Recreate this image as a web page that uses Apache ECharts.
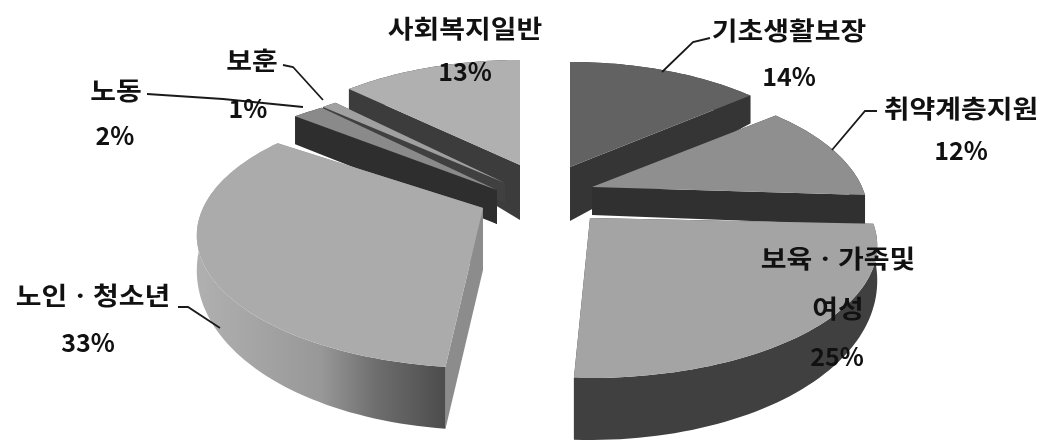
<!DOCTYPE html>
<html><head><meta charset="utf-8">
<style>html,body{margin:0;padding:0;background:#fff}#c{width:1043px;height:440px}</style>
<script src="https://cdn.jsdelivr.net/npm/echarts@6/dist/echarts.min.js"></script>
</head><body><div id="c"></div>
<script>
// ---- data (pie order, clockwise from 12 o'clock)
const categories = ['기초생활보장','취약계층지원','보육ㆍ가족및\n여성','노인ㆍ청소년','노동','보훈','사회복지일반'];
const shares = [14,12,25,33,2,1,13];

// ---- look of each slice (same order as categories)
const center = [540,190];
const explode = [[30,-23],[52,-3],[50,28],[-57,18],[-43,0],[-35,-7],[-20,-25]];
const radius = [265,270,281,280,306,285,268];
const turn = [0,0,-1,2.5,9,3.6,0];
const innerDepth = [54,28,50,62,34,20,55];
const stack = [1,2,3,4,3,2,1];
const topColor = ['#626262','#8f8f8f','#a4a4a4','#ababab','#8a8a8a','#a0a0a0','#b0b0b0'];
const wallColor = ['#353535','#303030','#404040','#8c8c8c','#2e2e2e','#404040','#3c3c3c'];
const rimColor = [
  '#353535','#303030','#404040',
  {type:'linear',x:0,y:0,x2:1,y2:0,colorStops:[{offset:0,color:'#b0b0b0'},{offset:.5,color:'#989898'},{offset:.72,color:'#6e6e6e'},{offset:1,color:'#4c4c4c'}]},
  '#2e2e2e','#404040','#3c3c3c'];
const perspective = 0.2075, flat = 126.8;

function project(deg,r){
  const a=deg*Math.PI/180, d=1+perspective*Math.cos(a);
  return [r*Math.sin(a)/d, -flat*Math.cos(a)/d];
}
function depth(deg){
  const c=Math.cos(deg*Math.PI/180);
  return c>=0?28:28+34*(-c);
}
const total = shares.reduce((a,b)=>a+b,0);
function renderSlice(params,api){
  const i=params.dataIndex, v=api.value(0);
  let before=0; for(let k=0;k<i;k++) before+=shares[k];
  const t0=before/total*360+turn[i], t1=t0+v/total*360;
  const ax=center[0]+explode[i][0], ay=center[1]+explode[i][1];
  const arc=[],low=[];
  const n=Math.max(6,Math.round((t1-t0)/1.5));
  for(let k=0;k<=n;k++){
    const t=t0+(t1-t0)*k/n, p=project(t,radius[i]);
    arc.push([ax+p[0],ay+p[1]]);
    low.push([ax+p[0],ay+p[1]+depth(t)]);
  }
  const apex=[ax,ay], apexLow=[ax,ay+innerDepth[i]];
  const z=stack[i];
  const poly=(pts,fill)=>({type:'polygon',z2:z,shape:{points:pts},style:{fill:fill}});
  const kids=[
    poly([apex,arc[0],low[0],apexLow],wallColor[i]),
    poly([apex,arc[n],low[n],apexLow],wallColor[i]),
    poly(arc.concat(low.slice().reverse()),rimColor[i]),
    poly([apex].concat(arc),topColor[i])
  ];
  return {type:'group',children:kids};
}

// ---- labels and leaders
const labelLines = ['사회복지일반','13%','기초생활보장','14%','취약계층지원','12%','보육ㆍ가족및','여성','25%','노인ㆍ청소년','33%','노동','2%','보훈','1%'];
const labelAt = [[465,28],[465,71],[789,30],[789,76],[961,108],[961,150],[838,258],[838,308],[837,356],[93,295],[88,342],[116,90],[115,135],[252,60],[248,108]];
const leaders = [
  [[710,38],[693,42],[662,72]],
  [[877,111],[865,111],[832,150]],
  [[178,307],[188,307],[220,328]],
  [[147,94],[223,99],[303,107]],
  [[283,65],[293,67],[323,100]]
];
function renderLabel(params,api){
  const i=params.dataIndex;
  const isPercent=labelLines[i].indexOf('%')>=0;
  return {type:'text',z2:20,x:labelAt[i][0],y:labelAt[i][1],scaleX:isPercent?1:1.12,
    style:{text:labelLines[i],fontSize:25,fontWeight:'bold',fontFamily:'"Noto Sans CJK KR"',fill:'#111',align:'center',verticalAlign:'middle'}};
}
function renderLeader(params,api){
  return {type:'polyline',z2:10,shape:{points:leaders[params.dataIndex]},style:{fill:'none',stroke:'#1a1a1a',lineWidth:1.8}};
}

const chart=echarts.init(document.getElementById('c'),null,{renderer:'canvas'});
chart.setOption({
  animation:false,backgroundColor:'#fff',tooltip:{show:false},
  series:[
    {type:'custom',coordinateSystem:'none',renderItem:renderSlice,silent:true,z:1,
     data:shares.map((v,i)=>({name:categories[i],value:[v]}))},
    {type:'custom',coordinateSystem:'none',renderItem:renderLeader,silent:true,z:2,data:leaders.map((l,i)=>i)},
    {type:'custom',coordinateSystem:'none',renderItem:renderLabel,silent:true,z:3,data:labelLines.map((l,i)=>({name:l,value:i}))}
  ]
});
</script></body></html>
